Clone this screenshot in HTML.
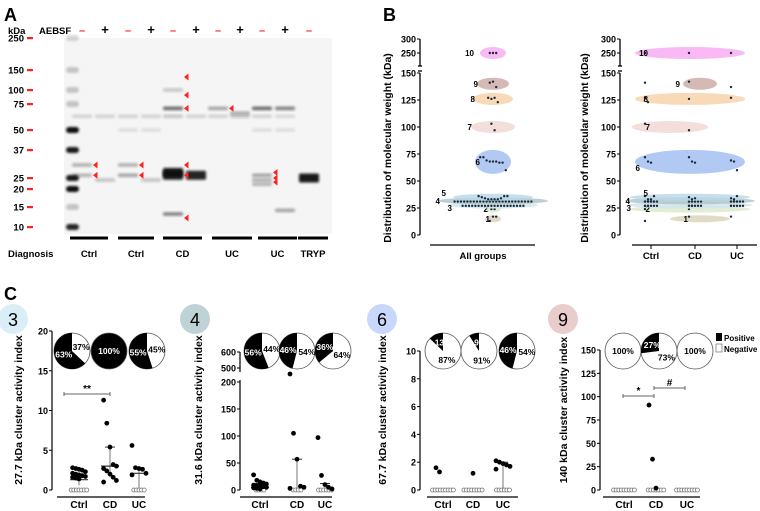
<!DOCTYPE html>
<html><head><meta charset="utf-8"><style>
body{margin:0;background:#fff}
svg{display:block;font-family:"Liberation Sans",Arial,sans-serif}
.b{font-weight:bold}
</style></head><body>
<svg id="fig" width="760" height="511" viewBox="0 0 760 511" xmlns="http://www.w3.org/2000/svg">
<defs><filter id="blur" x="-20%" y="-50%" width="140%" height="200%"><feGaussianBlur stdDeviation="1.4"/></filter></defs>
<g id="panelA"></g>
<g id="panelB"></g>
<g id="panelC"></g>
</svg>
<script>
// ---------- Panel A data ----------
const ladderKDa=[250,150,100,75,50,37,25,20,15,10];
const ladderY=[38,70,90,104,130,150,178,189,207,227];
const aebsf=['-','+','-','+','-','+','-','+','-','+','-'];
const laneX=[82,105,128,151,173,196,218,240,262,285,309];
const diagnosisLabels=['Ctrl','Ctrl','CD','UC','UC','TRYP'];
const diagnosisStart=[70,118,163,212,258,298];
const diagnosisEnd=[108,154,202,252,297,328];
// bands: lane index, kDa, intensity (0-1)
const bandLane=[0,0,1,2,2,3,4,4,4,4,4,5,6,7,8,8,8,8,9,9,10,0,1,2,3,4,5,6,7,8,9,2,3,8,9];
const bandKDa=[30,26,24,30,26,24,27,26,70,100,13,26,70,65,70,26,24,22,70,14,25,62,62,62,62,62,62,62,62,62,62,50,50,50,50];
const bandInt=[0.3,0.28,0.22,0.3,0.35,0.22,0.95,0.9,0.6,0.2,0.5,0.9,0.35,0.3,0.6,0.35,0.3,0.28,0.5,0.35,0.95,0.15,0.15,0.15,0.15,0.2,0.15,0.15,0.2,0.15,0.12,0.1,0.1,0.1,0.1];
const arrowKDa=[[30,26],[30,26],[130,90,70,30,26,12],[70],[27,25,23]];
const arrowLane=[0,2,4,6,8];
// ---------- Panel B data ----------
const clusterIds=[1,2,3,4,5,6,7,8,9,10];
const clusterKDa=[15,24,27.7,31.6,35,67.7,100,126,140,250];
const clusterColors=['#d9d2b8','#dbe8c9','#cfe3ec','#a9c4c9','#bcd6e6','#9fbcf0','#f0d6d2','#f6cfa6','#c9a8a2','#f6a8f2'];
const clusterAllPts=[[13,17,17],[24,24],[27,27,27,27,27,27,27,27,27,27,27,27,27,27,27,27,27,27,27,27],[31,31,31,31,31,31,31,31,31,31,31,31,31,31,31,31,31,31,31,31,31,31,31,31,31],[36,35,34,33,33,33,33,34,36,36],[72,72,69,68,68,68,67,67,60],[103,97],[127,126,127,123],[141,142,137],[250,250,250]];
const groupNames=['Ctrl','CD','UC'];
// ---------- Panel C data ----------
const cClusters=[3,4,6,9];
const cTitles=['27.7 kDa cluster activity index','31.6 kDa cluster activity index','67.7 kDa cluster activity index','140 kDa cluster activity index'];
const cPositivePct=[[63,100,55],[56,46,36],[13,9,46],[0,27,0]];
const c1Ctrl=[2.8,2.7,2.6,2.5,2.3,2.1,2.0,1.9,1.8,1.7,1.6,1.5,1.4];
const c1CD=[11.3,8.4,5.4,3.2,3.0,2.7,2.4,2.0,1.6,1.2,1.0];
const c1UC=[5.6,2.8,2.7,2.6,2.1,1.9];
const c2Ctrl=[28,18,15,13,11,9,8,7,6,5,4,3,2];
const c2CD=[350,105,57,7,5,3];
const c2UC=[97,27,10,5,2];
const c3Ctrl=[1.6,1.3];
const c3CD=[1.2];
const c3UC=[2.1,2.0,1.9,1.8,1.7,1.5];
const c4Ctrl=[];
const c4CD=[91,33,2];
const c4UC=[];
const cNegCounts=[[7,0,5],[4,4,6],[9,8,6],[9,7,9]];
const cMedian=[[1.3,3.0,2.1],[5,0,0],[0,0,0],[0,0,0]];
const cQ1=[[0.6,1.6,0],[2,0,0],[0,0,0],[0,0,0]];
const cQ3=[[1.9,5.4,2.8],[12,57,12],[0,0,2.0],[0,0,0]];
const c1Ticks=[0,5,10,15,20];
const c2Ticks=[0,50,100,150,200,500,600];
const c3Ticks=[0,2,4,6,8,10];
const c4Ticks=[0,25,50,75,100,125,150];

const NS='http://www.w3.org/2000/svg';
function mk(parent,tag,attrs,name,txt){const e=document.createElementNS(NS,tag);for(const k in attrs)e.setAttribute(k,attrs[k]);


if(txt!==undefined)e.textContent=txt;parent.appendChild(e);return e;}

// ===== Panel A =====
const A=document.getElementById('panelA');
function kdaY(k){for(let i=0;i<ladderKDa.length-1;i++){const a=ladderKDa[i],b=ladderKDa[i+1];if(k<=a&&k>=b){const t=(Math.log(a)-Math.log(k))/(Math.log(a)-Math.log(b));return ladderY[i]+t*(ladderY[i+1]-ladderY[i]);}}return k>250?ladderY[0]:ladderY[ladderY.length-1];}
mk(A,'text',{x:4,y:21,'font-size':18,class:'b'},'panel-a-label','A');
mk(A,'text',{x:8,y:34,'font-size':9.5,class:'b'},'kda-header','kDa');
mk(A,'text',{x:39,y:34,'font-size':9.5,class:'b'},'aebsf-header','AEBSF');
aebsf.forEach((s,i)=>{mk(A,'text',{x:laneX[i],y:34,'font-size':s==='+'?13:11,'text-anchor':'middle',fill:s==='+'?'#000':'#f22',class:'b'},'aebsf-sign',s==='-'?'–':'+');});
mk(A,'rect',{x:64,y:38,width:268,height:196,fill:'#f5f5f5'},'blot-background');
const ladder=[[250,0.15],[150,0.2],[100,0.2],[75,0.2],[50,0.95],[37,0.9],[25,0.9],[20,0.95],[15,0.2],[10,0.85]];
ladder.forEach(l=>{mk(A,'rect',{x:66,y:kdaY(l[0])-3,width:13,height:6,rx:3,fill:'#000',opacity:l[1],filter:'url(#blur)'},'ladder-band');});
ladderKDa.forEach((k,i)=>{mk(A,'text',{x:24,y:ladderY[i]+3.5,'font-size':9.5,'text-anchor':'end',class:'b'},'mw-label',String(k));
mk(A,'rect',{x:27,y:ladderY[i]-1,width:6,height:2.2,fill:'#f22'},'mw-tick');});
bandLane.forEach((ln,i)=>{const y=kdaY(bandKDa[i]);const h=bandInt[i]>0.8?9:3.5;
mk(A,'rect',{x:laneX[ln]-10,y:y-h/2,width:20,height:h,rx:1.5,fill:'#111',opacity:bandInt[i],filter:'url(#blur)'},'protein-band');});
arrowLane.forEach((ln,j)=>{arrowKDa[j].forEach(k=>{const y=kdaY(k);const x=laneX[ln]+11;
mk(A,'polygon',{points:`${x},${y} ${x+4.5},${y-3.5} ${x+4.5},${y+3.5}`,fill:'#f22'},'band-arrow');});});
mk(A,'text',{x:8,y:257,'font-size':9.5,class:'b'},'diagnosis-header','Diagnosis');
diagnosisLabels.forEach((d,i)=>{mk(A,'rect',{x:diagnosisStart[i],y:236.5,width:diagnosisEnd[i]-diagnosisStart[i],height:3,fill:'#000'},'diagnosis-bar');
mk(A,'text',{x:(diagnosisStart[i]+diagnosisEnd[i])/2,y:257,'font-size':9.5,'text-anchor':'middle',class:'b'},'diagnosis-label',d);});

// ===== Panel B =====
const B=document.getElementById('panelB');
mk(B,'text',{x:383,y:21,'font-size':18,class:'b'},'panel-b-label','B');
function bY(v){if(v<=150)return 235-v*(235-73)/150;return 53-(v-250)*(53-39)/50;}
function bAxis(ax,titleX,name){
 mk(B,'line',{x1:ax,y1:73,x2:ax,y2:235,stroke:'#000','stroke-width':1.3},name+'-y-axis-lower');
 mk(B,'line',{x1:ax,y1:39,x2:ax,y2:66,stroke:'#000','stroke-width':1.3},name+'-y-axis-upper');
 mk(B,'line',{x1:ax-2,y1:66,x2:ax+2,y2:66,stroke:'#000','stroke-width':1.3},name+'-axis-break');
 mk(B,'line',{x1:ax-2,y1:71,x2:ax+2,y2:71,stroke:'#000','stroke-width':1.3},name+'-axis-break');
 [0,25,50,75,100,125,150,250,300].forEach(t=>{const y=bY(t);mk(B,'line',{x1:ax-3,y1:y,x2:ax,y2:y,stroke:'#000'},name+'-y-tick');
 mk(B,'text',{x:ax-4,y:y+3.5,'font-size':9,'text-anchor':'end',class:'b'},name+'-y-tick-label',String(t));});
 mk(B,'text',{x:0,y:0,'font-size':10.5,class:'b','text-anchor':'middle',transform:`translate(${titleX},148) rotate(-90)`},name+'-y-axis-title','Distribution of molecular  weight (kDa)');}
bAxis(420,391,'b-left');bAxis(620,588,'b-right');
mk(B,'line',{x1:430,y1:245,x2:535,y2:245,stroke:'#000','stroke-width':1.3},'b-left-x-axis');
mk(B,'text',{x:483,y:259,'font-size':9.5,'text-anchor':'middle',class:'b'},'x-label-all-groups','All groups');
mk(B,'line',{x1:632,y1:245,x2:757,y2:245,stroke:'#000','stroke-width':1.3},'b-right-x-axis');
const gx=[651,695,737];
groupNames.forEach((g,i)=>{mk(B,'line',{x1:gx[i],y1:245,x2:gx[i],y2:249,stroke:'#000'},'b-x-tick');
mk(B,'text',{x:gx[i],y:259,'font-size':9.5,'text-anchor':'middle',class:'b'},'b-x-label',g);});
const leftW=[8,8,45,55,40,18,22,20,16,13];
const rightCx=[700,690,690,690,690,690,670,690,700,690];
const rightW=[30,60,62,65,60,55,38,55,17,55];
clusterIds.forEach((c,i)=>{const y=bY(clusterKDa[i]);
 mk(B,'ellipse',{cx:493,cy:y,rx:leftW[i],ry:i===5?12:(i<5?3.5:6),fill:clusterColors[i],opacity:0.8},'cluster-ellipse-all');
 mk(B,'ellipse',{cx:rightCx[i],cy:y,rx:rightW[i],ry:i===5?12:(i<5?3.5:6),fill:clusterColors[i],opacity:0.8},'cluster-ellipse-group');
 const pts=clusterAllPts[i];const n=pts.length;
 pts.forEach((v,j)=>{const x=493+(j-(n-1)/2)*(Math.min(2*leftW[i]-6,n*3.2)/Math.max(n,1));
  mk(B,'circle',{cx:x,cy:bY(v),r:1.2,fill:'#1a2a3a'},'cluster-point');});
 pts.forEach((v,j)=>{const g=j%3;const x=gx[g]+((Math.floor(j/3))%5-2)*3;
  mk(B,'circle',{cx:x,cy:bY(v),r:1.2,fill:'#1a2a3a'},'cluster-point-group');});
 const labelX=[490,488,452,440,446,480,472,475,478,474][i];
 mk(B,'text',{x:labelX,y:y+3+(i===2?3:0)+(i===4?-4:0),'font-size':8,'text-anchor':'end',class:'b'},'cluster-number-all',String(c));
 const rlx=[688,650,631,630,648,640,650,648,680,648][i];
 mk(B,'text',{x:rlx,y:y+3+(i===2?3:0)+(i===4?-4:0)+(i===5?6:0),'font-size':8,'text-anchor':'end',class:'b'},'cluster-number-group',String(c));
});

// ===== Panel C =====
const C=document.getElementById('panelC');
mk(C,'text',{x:4,y:300,'font-size':18,class:'b'},'panel-c-label','C');
function scale2(v){if(v>=500)return 368-(v-500)*0.16;if(v>200)return 380-(v-200)/300*12;return 490-v*(490-382)/200;}
const subs=[
 {ax:52,bx:57,ex:145,lab:[79,110,139],pies:[72,109,147],circ:13,circColor:'#d9eef7',title:18,ticks:c1Ticks,scale:v=>490-v*(490-331)/20,data:[c1Ctrl,c1CD,c1UC]},
 {ax:240,bx:240,ex:332,lab:[260,297,325],pies:[262,297,333],circ:195,circColor:'#bfd3d7',title:198,ticks:c2Ticks,scale:scale2,data:[c2Ctrl,c2CD,c2UC]},
 {ax:420,bx:427,ex:518,lab:[443,473,503],pies:[443,479,517],circ:382,circColor:'#c8d8fa',title:382,ticks:c3Ticks,scale:v=>490-v*(490-351)/10,data:[c3Ctrl,c3CD,c3UC]},
 {ax:600,bx:603,ex:700,lab:[624,656,687],pies:[623,659,695],circ:563,circColor:'#e9cccc',title:563,ticks:c4Ticks,scale:v=>490-v*(490-350)/150,data:[c4Ctrl,c4CD,c4UC]}];
subs.forEach((s,k)=>{
 const g=mk(C,'g',{},'subplot-cluster-'+cClusters[k]);
 mk(g,'circle',{cx:s.circ,cy:319,r:15,fill:s.circColor},'cluster-badge');
 mk(g,'text',{x:s.circ,y:326,'font-size':18,'text-anchor':'middle'},'cluster-badge-number',String(cClusters[k]));
 mk(g,'text',{x:0,y:0,'font-size':10.5,class:'b','text-anchor':'middle',transform:`translate(${s.title+4},410) rotate(-90)`},'y-axis-title',cTitles[k]);
 const top=s.scale(s.ticks[s.ticks.length-1]);
 if(k===1){mk(g,'line',{x1:s.ax,y1:352,x2:s.ax,y2:372,stroke:'#000','stroke-width':1.2},'y-axis-upper');
  mk(g,'line',{x1:s.ax,y1:380,x2:s.ax,y2:490,stroke:'#000','stroke-width':1.2},'y-axis-lower');}
 else mk(g,'line',{x1:s.ax,y1:top,x2:s.ax,y2:490,stroke:'#000','stroke-width':1.2},'y-axis');
 s.ticks.forEach(t=>{const y=s.scale(t);
  mk(g,'line',{x1:s.ax-3,y1:y,x2:s.ax,y2:y,stroke:'#000'},'y-tick');
  mk(g,'text',{x:s.ax-4,y:y+3.5,'font-size':9,'text-anchor':'end',class:'b'},'y-tick-label',String(t));});
 mk(g,'line',{x1:s.bx,y1:497,x2:s.ex,y2:497,stroke:'#000','stroke-width':1.2},'x-axis');
 groupNames.forEach((gn,i)=>{mk(g,'text',{x:s.lab[i],y:508,'font-size':10,'text-anchor':'middle',class:'b'},'x-label',gn);
  const cx=s.lab[i];
  const q3=cQ3[k][i],q1=cQ1[k][i],md=cMedian[k][i];
  if(q3>0){mk(g,'line',{x1:cx,y1:s.scale(q1),x2:cx,y2:s.scale(q3),stroke:'#777','stroke-width':1},'iqr-line');
   mk(g,'line',{x1:cx-5,y1:s.scale(q3),x2:cx+5,y2:s.scale(q3),stroke:'#333','stroke-width':1},'q3-cap');}
  if(md>0)mk(g,'line',{x1:cx-9,y1:s.scale(md),x2:cx+9,y2:s.scale(md),stroke:'#333','stroke-width':1.2},'median-line');
  const neg=cNegCounts[k][i];
  for(let j=0;j<neg;j++)mk(g,'circle',{cx:cx+(j-(neg-1)/2)*2.6,cy:490,r:2,fill:'#fff',stroke:'#777','stroke-width':0.8},'negative-point');
  const d=s.data[i];
  d.forEach((v,j)=>{const x=cx+((j%5)-2)*(d.length>6?3.2:3.5)*(d.length===1?0:1);
   mk(g,'circle',{cx:x,cy:s.scale(v),r:2.4,fill:'#000'},'positive-point');});
  // pie
  const px=s.pies[i],py=351,r=18,p=cPositivePct[k][i];
  mk(g,'circle',{cx:px,cy:py,r:r,fill:p===100?'#000':'#fff',stroke:'#555','stroke-width':0.8},'pie-chart');
  if(p>0&&p<100){const a=-2*Math.PI*p/100;const ex=px+r*Math.sin(a),ey=py-r*Math.cos(a);
   mk(g,'path',{d:`M${px},${py} L${px},${py-r} A${r},${r} 0 ${p>50?1:0} 0 ${ex},${ey} Z`,fill:'#000'},'pie-positive-slice');}
  const fs=8.5;
  if(p===100)mk(g,'text',{x:px,y:py+3,'font-size':fs,'text-anchor':'middle',fill:'#fff',class:'b'},'pie-label','100%');
  else if(p===0)mk(g,'text',{x:px,y:py+3,'font-size':fs,'text-anchor':'middle',fill:'#000',class:'b'},'pie-label','100%');
  else{const a1=-Math.PI*p/100,a2=Math.PI*(100-p)/100;
   const lp=p<20?String(p):p+'%';
   mk(g,'text',{x:px+r*0.5*Math.sin(a1),y:py-r*0.5*Math.cos(a1)+3,'font-size':fs,'text-anchor':'middle',fill:'#fff',class:'b'},'pie-positive-label',lp);
   mk(g,'text',{x:px+r*0.55*Math.sin(a2),y:py-r*0.55*Math.cos(a2)+3,'font-size':fs,'text-anchor':'middle',fill:'#000',class:'b'},'pie-negative-label',(100-p)+'%');}
 });
});
// significance bars
function sig(x1,x2,y,lab){mk(C,'line',{x1:x1,y1:y,x2:x2,y2:y,stroke:'#666'},'significance-bar');
 mk(C,'line',{x1:x1,y1:y-2,x2:x1,y2:y+2,stroke:'#666'},'significance-cap');
 mk(C,'line',{x1:x2,y1:y-2,x2:x2,y2:y+2,stroke:'#666'},'significance-cap');
 mk(C,'text',{x:(x1+x2)/2,y:y-2,'font-size':10,'text-anchor':'middle',class:'b'},'significance-label',lab);}
sig(64,110,394,'**');sig(623,654,396,'*');sig(654,685,388,'#');
// legend
mk(C,'rect',{x:716,y:333,width:6,height:8,fill:'#000'},'legend-positive-swatch');
mk(C,'text',{x:724,y:341,'font-size':8,class:'b'},'legend-positive-label','Positive');
mk(C,'rect',{x:716,y:344,width:6,height:8,fill:'#fff',stroke:'#555','stroke-width':0.6},'legend-negative-swatch');
mk(C,'text',{x:724,y:352,'font-size':8,class:'b'},'legend-negative-label','Negative');
</script>
</body></html>
